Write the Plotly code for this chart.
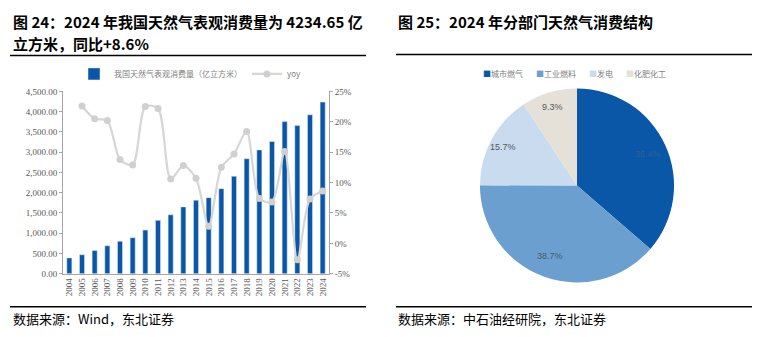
import math
import plotly.graph_objects as go

years = [str(y) for y in range(2004, 2025)]
consumption = [392, 470, 572, 690, 800, 890, 1078, 1318, 1455, 1650, 1815, 1877, 2100, 2406, 2839, 3056, 3263, 3754, 3657, 3922, 4234.65]
yoy_years = [str(y) for y in range(2005, 2025)]
yoy = [22.6, 20.5, 20.2, 13.8, 12.9, 22.5, 22.2, 10.6, 12.8, 10.7, 2.8, 12.5, 14.7, 18.4, 7.4, 6.8, 15.1, -2.7, 7.3, 8.6]

left_ticks = [0, 500, 1000, 1500, 2000, 2500, 3000, 3500, 4000, 4500]
right_ticks = [-5, 0, 5, 10, 15, 20, 25]
right_ticktext = ["-5%", "0%", "5%", "10%", "15%", "20%", "25%"]

sectors = ["城市燃气", "工业燃料", "发电", "化肥化工"]
shares = [36.4, 38.7, 15.7, 9.3]
pie_colors = ["#0957A6", "#6B9FCF", "#C9DBEE", "#E5E1D9"]
label_colors = ["#2F5F95", "#4A5A6A", "#595959", "#595959"]

W, H = 766, 337
def px(x):
    return x / W
def py(y):
    return 1 - y / H

CJK = "Noto Sans CJK SC"
SERIF = "Liberation Serif"
GREY = "#595959"

# pie geometry (pixels)
PCX, PCY, PR = 577, 186, 97
PAD = 3  # plotly shrinks the pie slightly inside its domain

fig = go.Figure()

fig.add_trace(go.Bar(
    x=years, y=consumption, name="我国天然气表观消费量（亿立方米）",
    marker_color="#0957A6", xaxis="x", yaxis="y", legend="legend",
))
fig.add_trace(go.Scatter(
    x=yoy_years, y=yoy, name="yoy", mode="lines+markers",
    line=dict(color="#D6D6D6", width=2.2, shape="spline", smoothing=0.8),
    marker=dict(color="#D0D0D0", size=7),
    xaxis="x", yaxis="y2", legend="legend",
))

fig.add_trace(go.Pie(
    labels=sectors, values=shares, sort=False, direction="clockwise", rotation=0,
    marker=dict(colors=pie_colors, line=dict(width=0)),
    textinfo="none",
    domain=dict(x=[px(PCX - PR - PAD), px(PCX + PR + PAD)],
                y=[py(PCY + PR + PAD), py(PCY - PR - PAD)]),
    showlegend=False, hoverinfo="label+percent",
))

fig.update_layout(
    width=W, height=H, margin=dict(l=0, r=0, t=0, b=0),
    paper_bgcolor="white", plot_bgcolor="white",
    bargap=0.6,
    xaxis=dict(domain=[px(63), px(329)], type="category", range=[-0.5, 20.5],
               tickangle=-90, tickfont=dict(family=SERIF, size=9, color=GREY),
               showline=True, linecolor="#A6A6A6", ticks="", showgrid=False, anchor="y"),
    yaxis=dict(domain=[py(277), py(89)], range=[0, 4500], tickvals=left_ticks,
               tickformat=",.2f", tickfont=dict(family=SERIF, size=9, color=GREY),
               showline=True, linecolor="#A6A6A6", ticks="outside", ticklen=3,
               tickcolor="#A6A6A6", showgrid=False, zeroline=False),
    yaxis2=dict(overlaying="y", side="right", anchor="x", range=[-5, 25],
                tickvals=right_ticks, ticktext=right_ticktext,
                tickfont=dict(family=SERIF, size=9, color=GREY),
                showline=True, linecolor="#A6A6A6", ticks="outside", ticklen=3,
                tickcolor="#A6A6A6", showgrid=False, zeroline=False),
    legend=dict(orientation="h", x=px(74), y=py(71), xanchor="left", yanchor="middle",
                font=dict(family=CJK, size=8, color="#7F7F7F"), bgcolor="rgba(0,0,0,0)",
                itemwidth=30, tracegroupgap=0),
    showlegend=True,
)

# pie percentage labels placed along each slice's bisector
total = sum(shares)
cum = 0.0
for v, c in zip(shares, label_colors):
    mid = (cum + v / 2) / total * 2 * math.pi
    cum += v
    frac = 0.8 if v / total > 0.2 else 0.87
    lx = PCX + PR * frac * math.sin(mid)
    ly = PCY - PR * frac * math.cos(mid)
    fig.add_annotation(xref="paper", yref="paper", x=px(lx), y=py(ly), text=f"{v:.1f}%",
                       showarrow=False, xanchor="center", yanchor="middle",
                       font=dict(family="Liberation Sans", size=9, color=c))

# pie legend as text entries
lx = 481
for name, col in zip(sectors, pie_colors):
    fig.add_annotation(xref="paper", yref="paper", x=px(lx), y=py(71), xanchor="left",
                       yanchor="middle", showarrow=False,
                       text=f"<span style='color:{col}'>■</span>{name}",
                       font=dict(family=CJK, size=8, color="#7F7F7F"))
    lx += 8 * (len(name) + 1) + 13

anns = [
    dict(text="<b>图 24：2024 年我国天然气表观消费量为 4234.65 亿</b>", x=px(11), y=py(17)),
    dict(text="<b>立方米，同比+8.6%</b>", x=px(11), y=py(40)),
    dict(text="<b>图 25：2024 年分部门天然气消费结构</b>", x=px(396), y=py(17)),
]
for a in anns:
    fig.add_annotation(xref="paper", yref="paper", xanchor="left", yanchor="middle",
                       showarrow=False, font=dict(family=CJK, size=15, color="black"), **a)
for txt, x0 in [("数据来源：Wind，东北证券", 11), ("数据来源：中石油经研院，东北证券", 396)]:
    fig.add_annotation(xref="paper", yref="paper", xanchor="left", yanchor="middle",
                       x=px(x0), y=py(323), text=txt, showarrow=False,
                       font=dict(family=CJK, size=13, color="black"))

for (x0, x1, yy) in [(10, 366, 52), (10, 366, 311), (396, 752, 51), (396, 752, 311)]:
    fig.add_shape(type="line", xref="paper", yref="paper", x0=px(x0), x1=px(x1),
                  y0=py(yy), y1=py(yy), line=dict(color="black", width=1.5))

fig.write_html("out.html")
